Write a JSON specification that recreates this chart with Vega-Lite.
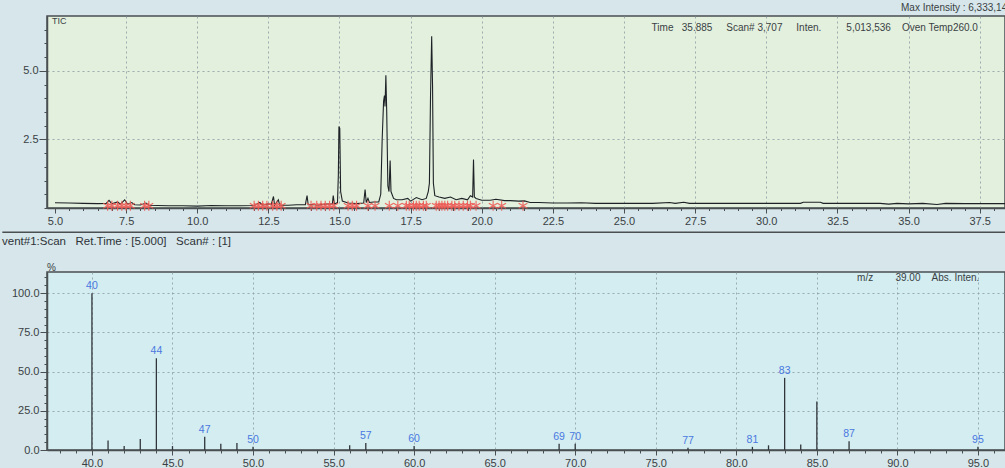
{
  "$schema": "https://vega.github.io/schema/vega-lite/v6.json",
  "background": "#d6e6ea",
  "padding": {"top": 2, "left": 0, "right": 0, "bottom": 0},
  "spacing": 0,
  "config": {
    "font": "Liberation Sans",
    "view": {"stroke": "#4a4f52", "strokeWidth": 1.5},
    "axis": {
      "labelFont": "Liberation Sans",
      "labelFontSize": 11,
      "labelColor": "#3a3f44",
      "domainColor": "#4a4f52",
      "domainWidth": 1.5,
      "tickColor": "#4a4f52",
      "gridColor": "#8a9aa0",
      "gridDash": [2, 3],
      "labelOverlap": false,
      "labelBound": false,
      "labelFlush": false,
      "labelPadding": 2,
      "tickCount": 1000
    }
  },
  "vconcat": [
    {
      "title": {"text": "Max Intensity : 6,333,14", "anchor": "end", "frame": "bounds", "fontSize": 10, "fontWeight": "normal", "color": "#3a3f44", "offset": 3},
      "width": 958,
      "height": 192,
      "view": {"fill": "#e3f0de"},
      "layer": [
        {
          "data": {"values": [
            {"t": 5.0, "v": 0.19}, {"t": 5.5, "v": 0.18}, {"t": 6.0, "v": 0.17}, {"t": 6.5, "v": 0.16},
            {"t": 6.8, "v": 0.17}, {"t": 6.9, "v": 0.28}, {"t": 7.0, "v": 0.15}, {"t": 7.2, "v": 0.22},
            {"t": 7.3, "v": 0.14}, {"t": 7.45, "v": 0.3}, {"t": 7.55, "v": 0.14}, {"t": 7.7, "v": 0.2},
            {"t": 7.8, "v": 0.12}, {"t": 8.0, "v": 0.11}, {"t": 8.2, "v": 0.18}, {"t": 8.3, "v": 0.1},
            {"t": 8.6, "v": 0.09}, {"t": 9.0, "v": 0.08}, {"t": 9.5, "v": 0.08}, {"t": 10.0, "v": 0.07},
            {"t": 10.5, "v": 0.09}, {"t": 11.0, "v": 0.08}, {"t": 11.5, "v": 0.08}, {"t": 12.0, "v": 0.09},
            {"t": 12.2, "v": 0.2}, {"t": 12.3, "v": 0.1}, {"t": 12.5, "v": 0.15}, {"t": 12.6, "v": 0.12},
            {"t": 12.68, "v": 0.42}, {"t": 12.72, "v": 0.1}, {"t": 12.85, "v": 0.3}, {"t": 12.9, "v": 0.1},
            {"t": 13.2, "v": 0.1}, {"t": 13.5, "v": 0.12}, {"t": 13.8, "v": 0.12}, {"t": 13.86, "v": 0.45},
            {"t": 13.9, "v": 0.12}, {"t": 14.1, "v": 0.13}, {"t": 14.2, "v": 0.1}, {"t": 14.5, "v": 0.14},
            {"t": 14.75, "v": 0.15}, {"t": 14.78, "v": 0.45}, {"t": 14.82, "v": 0.15}, {"t": 14.93, "v": 0.2},
            {"t": 14.96, "v": 1.2}, {"t": 14.98, "v": 2.97}, {"t": 15.01, "v": 2.9}, {"t": 15.04, "v": 0.6},
            {"t": 15.1, "v": 0.25}, {"t": 15.3, "v": 0.18}, {"t": 15.6, "v": 0.16}, {"t": 15.85, "v": 0.18},
            {"t": 15.9, "v": 0.67}, {"t": 15.94, "v": 0.2}, {"t": 16.0, "v": 0.35}, {"t": 16.05, "v": 0.2},
            {"t": 16.2, "v": 0.22}, {"t": 16.38, "v": 0.22}, {"t": 16.45, "v": 0.5}, {"t": 16.5, "v": 2.5},
            {"t": 16.55, "v": 3.9}, {"t": 16.58, "v": 4.1}, {"t": 16.6, "v": 3.7}, {"t": 16.63, "v": 4.84},
            {"t": 16.66, "v": 3.5}, {"t": 16.7, "v": 0.8}, {"t": 16.74, "v": 0.6}, {"t": 16.78, "v": 1.73},
            {"t": 16.81, "v": 0.6}, {"t": 16.9, "v": 0.35}, {"t": 17.0, "v": 0.3}, {"t": 17.2, "v": 0.3},
            {"t": 17.4, "v": 0.35}, {"t": 17.5, "v": 0.25}, {"t": 17.7, "v": 0.38}, {"t": 17.9, "v": 0.3},
            {"t": 18.05, "v": 0.35}, {"t": 18.12, "v": 0.6}, {"t": 18.16, "v": 0.9}, {"t": 18.2, "v": 4.14},
            {"t": 18.24, "v": 6.26}, {"t": 18.27, "v": 4.5}, {"t": 18.3, "v": 0.9}, {"t": 18.35, "v": 0.45},
            {"t": 18.5, "v": 0.4}, {"t": 18.7, "v": 0.35}, {"t": 18.9, "v": 0.4}, {"t": 19.1, "v": 0.3},
            {"t": 19.3, "v": 0.35}, {"t": 19.5, "v": 0.3}, {"t": 19.6, "v": 0.45}, {"t": 19.68, "v": 0.4},
            {"t": 19.71, "v": 1.77}, {"t": 19.74, "v": 0.4}, {"t": 19.8, "v": 0.35}, {"t": 20.0, "v": 0.28},
            {"t": 20.3, "v": 0.28}, {"t": 20.5, "v": 0.32}, {"t": 20.8, "v": 0.27}, {"t": 21.0, "v": 0.27},
            {"t": 21.3, "v": 0.25}, {"t": 21.5, "v": 0.26}, {"t": 21.7, "v": 0.2}, {"t": 22.0, "v": 0.2},
            {"t": 22.5, "v": 0.18}, {"t": 23.0, "v": 0.18}, {"t": 23.5, "v": 0.19}, {"t": 24.0, "v": 0.17},
            {"t": 25.0, "v": 0.17}, {"t": 26.0, "v": 0.17}, {"t": 26.6, "v": 0.2}, {"t": 26.8, "v": 0.17},
            {"t": 27.1, "v": 0.21}, {"t": 27.3, "v": 0.17}, {"t": 28.0, "v": 0.17}, {"t": 29.0, "v": 0.17},
            {"t": 30.0, "v": 0.17}, {"t": 31.2, "v": 0.17}, {"t": 31.3, "v": 0.21}, {"t": 31.9, "v": 0.21},
            {"t": 32.0, "v": 0.17}, {"t": 33.0, "v": 0.17}, {"t": 34.0, "v": 0.17}, {"t": 34.3, "v": 0.14},
            {"t": 34.6, "v": 0.17}, {"t": 35.0, "v": 0.15}, {"t": 35.5, "v": 0.17}, {"t": 36.0, "v": 0.13},
            {"t": 36.3, "v": 0.17}, {"t": 37.0, "v": 0.16}, {"t": 38.39, "v": 0.16}
          ]},
          "mark": {"type": "line", "color": "#1e2226", "strokeWidth": 1.1, "interpolate": "linear"},
          "encoding": {
            "x": {
              "field": "t", "type": "quantitative", "title": null,
              "scale": {"domain": [4.72, 38.39], "nice": false, "zero": false},
              "axis": {
                "values": [5,5.5,6,6.5,7,7.5,8,8.5,9,9.5,10,10.5,11,11.5,12,12.5,13,13.5,14,14.5,15,15.5,16,16.5,17,17.5,18,18.5,19,19.5,20,20.5,21,21.5,22,22.5,23,23.5,24,24.5,25,25.5,26,26.5,27,27.5,28,28.5,29,29.5,30,30.5,31,31.5,32,32.5,33,33.5,34,34.5,35,35.5,36,36.5,37,37.5,38],
                "labelExpr": "abs(datum.value/2.5 - round(datum.value/2.5)) < 0.001 ? format(datum.value, '.1f') : ''",
                "tickSize": {"condition": {"test": "abs(datum.value/2.5 - round(datum.value/2.5)) < 0.001", "value": 5}, "value": 2.5},
                "grid": true,
                "gridOpacity": {"condition": {"test": "abs(datum.value/2.5 - round(datum.value/2.5)) < 0.001 && datum.value > 5", "value": 0.8}, "value": 0}
              }
            },
            "y": {
              "field": "v", "type": "quantitative", "title": null,
              "scale": {"domain": [0, 7], "nice": false, "zero": true},
              "axis": {
                "values": [0,0.5,1,1.5,2,2.5,3,3.5,4,4.5,5,5.5,6,6.5],
                "labelExpr": "(datum.value == 2.5 || datum.value == 5) ? format(datum.value, '.1f') : ''",
                "tickSize": {"condition": {"test": "datum.value == 2.5 || datum.value == 5", "value": 8}, "value": 3},
                "labelPadding": 1,
                "grid": true,
                "gridOpacity": {"condition": {"test": "datum.value == 2.5 || datum.value == 5", "value": 0.8}, "value": 0},
                "minExtent": 45
              }
            }
          }
        },
        {
          "data": {"values": [
            {"t": 6.85, "v": 0.08}, {"t": 7.0, "v": 0.08}, {"t": 7.2, "v": 0.08}, {"t": 7.35, "v": 0.08},
            {"t": 7.5, "v": 0.08}, {"t": 7.65, "v": 0.08}, {"t": 8.15, "v": 0.08}, {"t": 8.3, "v": 0.08},
            {"t": 12.0, "v": 0.08}, {"t": 12.15, "v": 0.08}, {"t": 12.3, "v": 0.08}, {"t": 12.45, "v": 0.08},
            {"t": 12.65, "v": 0.08}, {"t": 12.8, "v": 0.08}, {"t": 12.95, "v": 0.08}, {"t": 14.0, "v": 0.08},
            {"t": 14.2, "v": 0.08}, {"t": 14.35, "v": 0.08}, {"t": 14.5, "v": 0.08}, {"t": 14.65, "v": 0.08},
            {"t": 14.8, "v": 0.08}, {"t": 15.3, "v": 0.08}, {"t": 15.45, "v": 0.08}, {"t": 15.6, "v": 0.08},
            {"t": 16.0, "v": 0.08}, {"t": 16.25, "v": 0.08}, {"t": 16.75, "v": 0.08}, {"t": 17.05, "v": 0.08},
            {"t": 17.35, "v": 0.08}, {"t": 17.45, "v": 0.08}, {"t": 17.6, "v": 0.08}, {"t": 17.7, "v": 0.08},
            {"t": 17.8, "v": 0.08}, {"t": 17.95, "v": 0.08}, {"t": 18.05, "v": 0.08}, {"t": 18.4, "v": 0.08},
            {"t": 18.5, "v": 0.08}, {"t": 18.6, "v": 0.08}, {"t": 18.7, "v": 0.08}, {"t": 18.8, "v": 0.08},
            {"t": 18.95, "v": 0.08}, {"t": 19.05, "v": 0.08}, {"t": 19.2, "v": 0.08}, {"t": 19.35, "v": 0.08},
            {"t": 19.5, "v": 0.08}, {"t": 19.6, "v": 0.08}, {"t": 19.8, "v": 0.08}, {"t": 20.4, "v": 0.08},
            {"t": 20.7, "v": 0.08}, {"t": 21.45, "v": 0.08}
          ]},
          "mark": {"type": "point", "shape": "M0,-1L0,1M-0.87,-0.5L0.87,0.5M-0.87,0.5L0.87,-0.5", "filled": false, "color": "#ee5a55", "strokeWidth": 1.1, "size": 100, "opacity": 0.9},
          "encoding": {
            "x": {"field": "t", "type": "quantitative"},
            "y": {"field": "v", "type": "quantitative"}
          }
        },
        {
          "data": {"values": [{}]},
          "mark": {"type": "text", "text": "TIC", "align": "left", "baseline": "middle", "fontSize": 9, "color": "#3a3f44"},
          "encoding": {
            "x": {"datum": 4.9, "type": "quantitative"},
            "y": {"datum": 6.8, "type": "quantitative"}
          }
        },
        {
          "data": {"values": [{}]},
          "mark": {"type": "text", "text": "Time\u00a0\u00a0\u00a035.885\u00a0\u00a0\u00a0\u00a0\u00a0Scan# 3,707\u00a0\u00a0\u00a0\u00a0\u00a0Inten.\u00a0\u00a0\u00a0\u00a0\u00a0\u00a0\u00a0\u00a0\u00a05,013,536\u00a0\u00a0\u00a0\u00a0Oven Temp260.0", "align": "left", "baseline": "middle", "fontSize": 10, "color": "#3a3f44"},
          "encoding": {
            "x": {"datum": 25.97, "type": "quantitative"},
            "y": {"datum": 6.55, "type": "quantitative"}
          }
        },
        {
          "data": {"values": [{}]},
          "mark": {"type": "rule", "color": "#4a4f52", "strokeWidth": 1.5},
          "encoding": {
            "x": {"datum": 3.15, "type": "quantitative"},
            "x2": {"datum": 38.39},
            "y": {"datum": -0.88, "type": "quantitative"}
          }
        }
      ]
    },
    {
      "title": {"text": "vent#1:Scan\u00a0\u00a0\u00a0Ret.Time : [5.000]\u00a0\u00a0\u00a0Scan# : [1]", "anchor": "start", "frame": "bounds", "fontSize": 11.5, "fontWeight": "normal", "color": "#2e3338", "offset": 15},
      "width": 958,
      "height": 178,
      "view": {"fill": "#d3edf1"},
      "data": {"values": [
        {"mz": 40, "pct": 100, "lab": "40"},
        {"mz": 41, "pct": 6},
        {"mz": 42, "pct": 2.5},
        {"mz": 43, "pct": 7},
        {"mz": 44, "pct": 58.5, "lab": "44"},
        {"mz": 45, "pct": 2.5},
        {"mz": 47, "pct": 8.5, "lab": "47"},
        {"mz": 48, "pct": 4},
        {"mz": 49, "pct": 4.5},
        {"mz": 50, "pct": 2, "lab": "50"},
        {"mz": 56, "pct": 3},
        {"mz": 57, "pct": 4.5, "lab": "57"},
        {"mz": 60, "pct": 2.5, "lab": "60"},
        {"mz": 69, "pct": 4, "lab": "69"},
        {"mz": 70, "pct": 4, "lab": "70"},
        {"mz": 77, "pct": 1.5, "lab": "77"},
        {"mz": 81, "pct": 2, "lab": "81"},
        {"mz": 82, "pct": 3},
        {"mz": 83, "pct": 46, "lab": "83"},
        {"mz": 84, "pct": 3.5},
        {"mz": 85, "pct": 31},
        {"mz": 87, "pct": 5.5, "lab": "87"},
        {"mz": 95, "pct": 2, "lab": "95"}
      ]},
      "layer": [
        {
          "mark": {"type": "rule", "color": "#30353a", "strokeWidth": 1.3},
          "encoding": {
            "x": {
              "field": "mz", "type": "quantitative", "title": null,
              "scale": {"domain": [37.21, 96.68], "nice": false, "zero": false},
              "axis": {
                "values": [38,39,40,41,42,43,44,45,46,47,48,49,50,51,52,53,54,55,56,57,58,59,60,61,62,63,64,65,66,67,68,69,70,71,72,73,74,75,76,77,78,79,80,81,82,83,84,85,86,87,88,89,90,91,92,93,94,95,96],
                "labelExpr": "datum.value % 5 == 0 ? format(datum.value, '.1f') : ''",
                "tickSize": {"condition": {"test": "datum.value % 5 == 0", "value": 5}, "value": 3},
                "grid": true,
                "gridOpacity": {"condition": {"test": "datum.value % 5 == 0", "value": 0.8}, "value": 0}
              }
            },
            "y": {
              "field": "pct", "type": "quantitative",
              "scale": {"domain": [0, 113.5], "nice": false, "zero": true},
              "axis": {
                "values": [0,5,10,15,20,25,30,35,40,45,50,55,60,65,70,75,80,85,90,95,100,105,110],
                "labelExpr": "datum.value % 25 == 0 ? format(datum.value, '.1f') : ''",
                "tickSize": {"condition": {"test": "datum.value % 25 == 0", "value": 7}, "value": 3},
                "labelPadding": 1,
                "grid": true,
                "gridOpacity": {"condition": {"test": "datum.value % 25 == 0 && datum.value > 0", "value": 0.8}, "value": 0},
                "minExtent": 45,
                "title": "%",
                "titleAngle": 0,
                "titleX": 4,
                "titleY": 0,
                "titleAlign": "center",
                "titleBaseline": "bottom",
                "titleFontSize": 10,
                "titleFontWeight": "normal",
                "titleColor": "#3a3f44"
              }
            },
            "y2": {"datum": 0}
          }
        },
        {
          "transform": [{"filter": "datum.lab != null"}],
          "mark": {"type": "text", "baseline": "bottom", "dy": -2, "fontSize": 10.5, "color": "#4a78e0"},
          "encoding": {
            "x": {"field": "mz", "type": "quantitative"},
            "y": {"field": "pct", "type": "quantitative"},
            "text": {"field": "lab"}
          }
        },
        {
          "data": {"values": [{}]},
          "mark": {"type": "text", "text": "m/z\u00a0\u00a0\u00a0\u00a0\u00a0\u00a0\u00a0\u00a039.00\u00a0\u00a0\u00a0\u00a0Abs. Inten.", "align": "left", "baseline": "middle", "fontSize": 10, "color": "#3a3f44"},
          "encoding": {
            "x": {"datum": 87.5, "type": "quantitative"},
            "y": {"datum": 109.8, "type": "quantitative"}
          }
        }
      ]
    }
  ]
}
